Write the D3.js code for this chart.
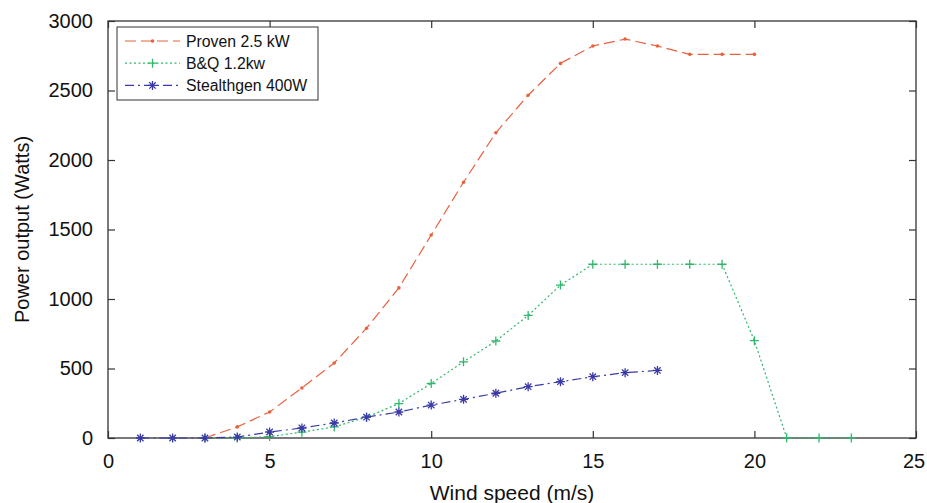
<!DOCTYPE html>
<html><head><meta charset="utf-8">
<script src="https://cdn.jsdelivr.net/npm/d3@7"></script>
<style>body{margin:0;background:#fff}svg{display:block}text{font-family:"Liberation Sans",Arial,sans-serif;fill:#111}</style>
</head><body>
<svg id="c" width="927" height="503"></svg>
<script>
const provenX = [3,4,5,6,7,8,9,10,11,12,13,14,15,16,17,18,19,20];
const provenY = [0,80,187,360,540,790,1080,1460,1840,2196,2466,2695,2820,2870,2820,2760,2760,2760];
const bqX = [3,4,5,6,7,8,9,10,11,12,13,14,15,16,17,18,19,20,21,22,23];
const bqY = [0,0,10,42,80,150,248,392,548,698,882,1100,1250,1250,1250,1250,1250,700,0,0,0];
const stX = [1,2,3,4,5,6,7,8,9,10,11,12,13,14,15,16,17];
const stY = [0,0,0,7,43,72,108,150,187,237,278,322,369,405,441,470,486];
const xTicks = [0,5,10,15,20,25];
const yTicks = [0,500,1000,1500,2000,2500,3000];
const seriesNames = ["Proven 2.5 kW","B&Q 1.2kw","Stealthgen 400W"];

const svg = d3.select("#c");
const L=108,R=916,T=21,B=438;
const x = d3.scaleLinear().domain([0,25]).range([L,R]);
const y = d3.scaleLinear().domain([0,3000]).range([B,T]);

const series = [
  {name:seriesNames[0], xs:provenX, ys:provenY, color:"#e8623e", dash:"11,5", marker:"dot"},
  {name:seriesNames[1], xs:bqX, ys:bqY, color:"#2fb86c", dash:"2,2.5", marker:"plus"},
  {name:seriesNames[2], xs:stX, ys:stY, color:"#3a3aa6", dash:"9,4,2,4", marker:"star"}
];

function drawMarker(g, type, cx, cy, color){
  if(type==="dot"){
    g.append("circle").attr("cx",cx).attr("cy",cy).attr("r",1.8).attr("fill",color);
  } else if(type==="plus"){
    const s=4.5;
    g.append("path").attr("d",`M${cx-s},${cy}H${cx+s}M${cx},${cy-s}V${cy+s}`).attr("stroke",color).attr("stroke-width",1.3);
  } else {
    const s=4.5, d=3.2;
    g.append("path").attr("d",`M${cx-s},${cy}H${cx+s}M${cx},${cy-s}V${cy+s}M${cx-d},${cy-d}L${cx+d},${cy+d}M${cx-d},${cy+d}L${cx+d},${cy-d}`).attr("stroke",color).attr("stroke-width",1.3);
  }
}

// axes box
svg.append("rect").attr("x",L).attr("y",T).attr("width",R-L).attr("height",B-T).attr("fill","none").attr("stroke","#333").attr("stroke-width",1.3);

const fmt = d3.format("d");
const xb = svg.append("g").attr("transform",`translate(0,${B})`).call(d3.axisBottom(x).tickValues(xTicks).tickFormat(fmt).tickSizeInner(-7).tickSizeOuter(0).tickPadding(16));
const xt = svg.append("g").attr("transform",`translate(0,${T})`).call(d3.axisTop(x).tickValues(xTicks).tickSizeInner(-7).tickSizeOuter(0).tickFormat(""));
const yl = svg.append("g").attr("transform",`translate(${L},0)`).call(d3.axisLeft(y).tickValues(yTicks).tickFormat(fmt).tickSizeInner(-7).tickSizeOuter(0).tickPadding(15));
const yr = svg.append("g").attr("transform",`translate(${R},0)`).call(d3.axisRight(y).tickValues(yTicks).tickSizeInner(-7).tickSizeOuter(0).tickFormat(""));
[xb,xt,yl,yr].forEach(g=>{
  g.attr("font-size",null).attr("font-family",null);
  g.select(".domain").remove();
  g.selectAll(".tick line").attr("stroke","#333").attr("stroke-width",1.2);
  g.selectAll(".tick text").style("font-size","20px").style("font-family","Liberation Sans, Arial, sans-serif").attr("fill","#111");
});
xb.selectAll(".tick text").attr("dy","0.71em").attr("dx",d=>d===25?-2.5:0);

// lines
const line = d3.line().x(d=>x(d[0])).y(d=>y(d[1]));
series.forEach(s=>{
  const pts = s.xs.map((v,i)=>[v,s.ys[i]]);
  const g = svg.append("g");
  g.append("path").attr("d",line(pts)).attr("fill","none").attr("stroke",s.color).attr("stroke-width",1.2).attr("stroke-dasharray",s.dash);
  pts.forEach(p=>drawMarker(g,s.marker,x(p[0]),y(p[1]),s.color));
});

// legend
const lg = svg.append("g");
lg.append("rect").attr("x",117).attr("y",27).attr("width",201).attr("height",73).attr("fill","#fff").attr("stroke","#333").attr("stroke-width",1);
series.forEach((s,i)=>{
  const cy = 41 + i*22.2;
  lg.append("path").attr("d",`M125,${cy}H180`).attr("stroke",s.color).attr("stroke-width",1.2).attr("stroke-dasharray",s.dash).attr("fill","none");
  drawMarker(lg,s.marker,152.5,cy,s.color);
  lg.append("text").attr("x",186).attr("y",cy).attr("dy","0.35em").style("font-size","15.8px").text(s.name);
});

// axis titles
svg.append("text").attr("x",(L+R)/2).attr("y",500).attr("text-anchor","middle").style("font-size","21px").text("Wind speed (m/s)");
svg.append("text").attr("transform",`translate(29,${(T+B)/2}) rotate(-90)`).attr("text-anchor","middle").style("font-size","20px").text("Power output (Watts)");
</script>
</body></html>
